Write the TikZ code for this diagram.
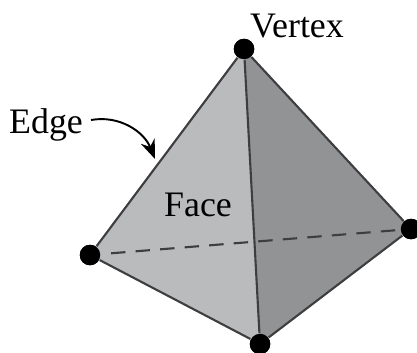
\documentclass[tikz,border=0pt]{standalone}
\usepackage{fontspec}
\setmainfont{Liberation Serif}
\usetikzlibrary{arrows.meta}
\definecolor{lightface}{RGB}{186,187,189}
\definecolor{darkface}{RGB}{146,147,149}
\definecolor{edgeline}{RGB}{62,62,64}
\tikzset{
  vertexdot/.style={circle, fill=black, inner sep=0pt, minimum size=0.205cm},
  edgeln/.style={draw=edgeline, line width=0.6pt},
  hiddenln/.style={draw=edgeline, line width=0.6pt, dash pattern=on 4.1pt off 2.9pt, dash phase=4.1pt},
  labeltext/.style={font=\fontsize{10.2pt}{12pt}\selectfont, text=black, inner sep=0pt}
}

\begin{document}
\begin{tikzpicture}
    \useasboundingbox (0,0) rectangle (4.17,3.52);

    % Corners of the solid
    \node[vertexdot] (T) at (2.44,3.03) {};
    \node[vertexdot] (L) at (0.90,0.97) {};
    \node[vertexdot] (R) at (4.11,1.23) {};
    \node[vertexdot] (B) at (2.60,0.08) {};

    % Faces
    \fill[lightface] (T.center) -- (L.center) -- (B.center) -- cycle;
    \fill[darkface] (T.center) -- (R.center) -- (B.center) -- cycle;

    % Edges
    \draw[edgeln] (T) -- (L);
    \draw[edgeln] (L) -- (B);
    \draw[edgeln] (T) -- (R);
    \draw[edgeln] (R) -- (B);
    \draw[edgeln] (T) -- (B);
    \draw[hiddenln] (L) -- (R);

    % Corners again, on top of the faces
    \node[vertexdot] at (T) {};
    \node[vertexdot] at (L) {};
    \node[vertexdot] at (R) {};
    \node[vertexdot] at (B) {};

    % Labels
    \node[labeltext] (Vertex) at (2.97,3.26) {Vertex};
    \node[labeltext] (Face) at (1.98,1.47) {Face};
    \node[labeltext] (Edge) at (0.46,2.27) {Edge};

    % Pointer
    \coordinate (Etip) at (1.55,1.93);
    \draw[-{Stealth[length=5.5pt,width=4.2pt]}, line width=0.55pt] (0.91,2.32) to[out=10, in=112] (Etip);
\end{tikzpicture}
\end{document}
